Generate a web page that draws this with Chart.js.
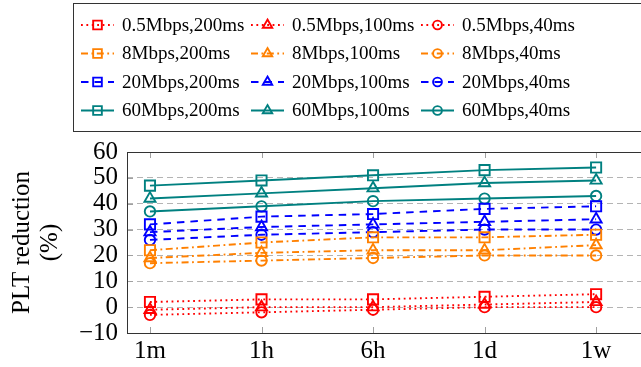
<!DOCTYPE html>
<html lang="en">
<head>
<meta charset="UTF-8">
<title>PLT reduction</title>
<script src="https://cdn.jsdelivr.net/npm/chart.js"></script>
<style>
  html, body { margin: 0; padding: 0; background: #fff; overflow: hidden; }
  #wrap { width: 700px; height: 367px; }
  .warm { position: absolute; left: -999px; top: 0; font-family: "Liberation Serif"; }
</style>
</head>
<body>
<span class="warm">0.5Mbps PLT reduction</span>
<div id="wrap"><canvas id="plt" width="700" height="367"></canvas></div>
<script>
// time since last visit
const labels = ['1m', '1h', '6h', '1d', '1w'];
const bandwidths = ['0.5Mbps', '8Mbps', '20Mbps', '60Mbps'];
const latencies = ['200ms', '100ms', '40ms'];
const yTicks = [-10, 0, 10, 20, 30, 40, 50, 60];

// PLT reduction (%) per bandwidth, rows = 200ms, 100ms, 40ms
const red = [[2, 3, 3, 4, 5], [-1, 0, 0, 1, 2], [-3, -2, -1, 0, 0]];
const orange = [[22, 25, 27, 27, 28], [19, 21, 22, 22, 24], [17, 18, 19, 20, 20]];
const blue = [[32, 35, 36, 38, 39], [29, 31, 32, 33, 34], [26, 28, 29, 30, 30]];
const teal = [[47, 49, 51, 53, 54], [42, 44, 46, 48, 49], [37, 39, 41, 42, 43]];

const series = [red, orange, blue, teal];
const colors = ['#ff0000', '#ff8000', '#0000ff', '#008080'];
const dashes = [[1.8, 3.6], [7, 3.5, 1.8, 3.5], [7.5, 6], []];
const marks = ['rect', 'triangle', 'circle'];
const markSize = { rect: 7.2, triangle: 6.4, circle: 5.2 };

const datasets = [];
series.forEach((rows, b) => {
  rows.forEach((vals, l) => {
    datasets.push({
      label: bandwidths[b] + ',' + latencies[l],
      data: vals.map((v, i) => ({ x: i, y: v })),
      borderColor: colors[b],
      borderWidth: 1.9,
      borderDash: dashes[b],
      pointStyle: marks[l],
      pointRadius: markSize[marks[l]],
      pointHoverRadius: markSize[marks[l]],
      pointBorderColor: colors[b],
      pointBackgroundColor: 'rgba(0,0,0,0)',
      pointBorderWidth: 1.9,
      tension: 0
    });
  });
});

const FONT = '"Liberation Serif", "Times New Roman", Tinos, serif';

const frame = {
  id: 'frame',
  beforeDatasetsDraw(chart) {
    const { ctx, chartArea: a, scales } = chart;
    ctx.save();
    ctx.strokeStyle = '#a0a0a0';
    ctx.lineWidth = 1;
    ctx.beginPath();
    labels.forEach((_, i) => {
      const x = Math.round(scales.x.getPixelForValue(i)) + 0.5;
      ctx.moveTo(x, a.top); ctx.lineTo(x, a.top + 6);
      ctx.moveTo(x, a.bottom); ctx.lineTo(x, a.bottom - 6);
    });
    yTicks.forEach(v => {
      const y = Math.round(scales.y.getPixelForValue(v)) + 0.5;
      ctx.moveTo(a.left, y); ctx.lineTo(a.left + 6, y);
    });
    ctx.stroke();
    ctx.restore();
  },
  afterDraw(chart) {
    const { ctx, chartArea: a } = chart;
    ctx.save();
    ctx.strokeStyle = '#333';
    ctx.lineWidth = 1;
    ctx.strokeRect(Math.round(a.left) + 0.5, Math.round(a.top) + 0.5, 800, Math.round(a.bottom - a.top));
    // legend
    ctx.strokeRect(73.5, 3.5, 800, 128);
    chart.data.datasets.forEach((ds, i) => {
      const col = i % 3, row = Math.floor(i / 3);
      const x0 = 81 + col * 170, y = 25 + row * 28.5;
      ctx.strokeStyle = ds.borderColor;
      ctx.lineWidth = ds.borderWidth;
      ctx.setLineDash(ds.borderDash);
      ctx.beginPath();
      ctx.moveTo(x0, y); ctx.lineTo(x0 + 33, y);
      ctx.stroke();
      ctx.setLineDash([]);
      ctx.fillStyle = 'rgba(0,0,0,0)';
      ctx.lineWidth = ds.pointBorderWidth;
      Chart.helpers.drawPoint(ctx, { pointStyle: ds.pointStyle, radius: ds.pointRadius * 0.85, borderWidth: ds.pointBorderWidth, rotation: 0 }, x0 + 16.5, y);
      ctx.fillStyle = '#000';
      ctx.font = '19px ' + FONT;
      ctx.textBaseline = 'middle';
      ctx.textAlign = 'left';
      ctx.fillText(ds.label, x0 + 41, y + 1);
    });
    ctx.restore();
  }
};

function draw() {
  new Chart(document.getElementById('plt'), {
    type: 'line',
    data: { datasets: datasets },
    plugins: [frame],
    options: {
      responsive: false,
      animation: false,
      events: [],
      layout: { padding: { top: 152, left: 0, right: 0, bottom: 0 } },
      plugins: { legend: { display: false }, tooltip: { enabled: false } },
      scales: {
        x: {
          type: 'linear',
          min: -0.206,
          max: 4.85,
          afterBuildTicks: s => { s.ticks = labels.map((_, i) => ({ value: i })); },
          afterFit: s => { s.height = 34; },
          grid: { display: false, drawTicks: false },
          border: { display: false },
          ticks: {
            callback: v => labels[v],
            color: '#000',
            font: { family: FONT, size: 25 },
            padding: 3,
            autoSkip: false,
            maxRotation: 0
          }
        },
        y: {
          min: -10,
          max: 60,
          afterBuildTicks: s => { s.ticks = yTicks.map(v => ({ value: v })); },
          afterFit: s => { s.width = 127; },
          grid: { color: '#b4b4b4', lineWidth: 1, drawTicks: false },
          border: { display: false, dash: [6, 4] },
          ticks: {
            callback: v => (v < 0 ? '\u2212' + Math.abs(v) : String(v)),
            color: '#000',
            font: { family: FONT, size: 25 },
            padding: 9,
            autoSkip: false
          },
          title: {
            display: true,
            text: ['PLT reduction', '(%)'],
            color: '#000',
            font: { family: FONT, size: 25, lineHeight: 1.12 },
            padding: { top: 8, bottom: 0 }
          }
        }
      }
    }
  });
}

if (document.fonts && document.fonts.load) {
  document.fonts.load('24px "Liberation Serif"').then(draw, draw);
} else {
  draw();
}
</script>
</body>
</html>
